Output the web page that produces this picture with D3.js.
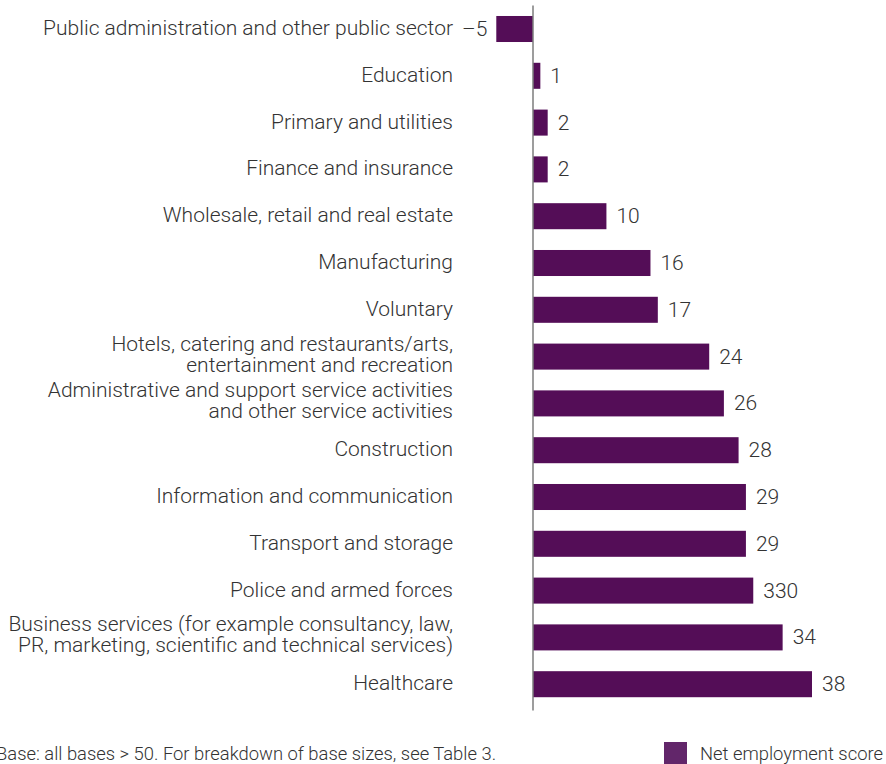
<!DOCTYPE html>
<html>
<head>
<meta charset="utf-8">
<script src="https://cdn.jsdelivr.net/npm/d3@7"></script>
<style>
  html, body { margin: 0; padding: 0; background: #ffffff; }
  svg { display: block; }
  text { font-family: Roboto, "Open Sans", sans-serif; font-weight: 300; fill: #333333; }
</style>
</head>
<body>
<svg id="chart" width="886" height="764"></svg>
<script>
// Sector labels (each entry is the list of lines drawn for that sector)
const categories = [
  ["Public administration and other public sector"],
  ["Education"],
  ["Primary and utilities"],
  ["Finance and insurance"],
  ["Wholesale, retail and real estate"],
  ["Manufacturing"],
  ["Voluntary"],
  ["Hotels, catering and restaurants/arts,", "entertainment and recreation"],
  ["Administrative and support service activities", "and other service activities"],
  ["Construction"],
  ["Information and communication"],
  ["Transport and storage"],
  ["Police and armed forces"],
  ["Business services (for example consultancy, law,", "PR, marketing, scientific and technical services)"],
  ["Healthcare"]
];

// Net employment score per sector
const values = [-5, 1, 2, 2, 10, 16, 17, 24, 26, 28, 29, 29, 30, 34, 38];

// Printed value labels, as published
const valueLabels = ["\u20135", "1", "2", "2", "10", "16", "17", "24", "26", "28", "29", "29", "330", "34", "38"];

const seriesName = "Net employment score";
const footnote = "Base: all bases > 50. For breakdown of base sizes, see Table 3.";

const barColor = "#540d57";
const legendColor = "#62266a";
const labelSize = 21;
const noteSize = 18.4;

const svg = d3.select("#chart");
const ids = categories.map((_, i) => i);

const x = d3.scaleLinear()
  .domain([0, d3.max(values)])
  .range([533, 812]);

const y = d3.scaleBand()
  .domain(ids)
  .range([5.6, 707.6])
  .paddingInner(0.444)
  .paddingOuter(0.222);

// Bars
svg.append("g")
  .selectAll("rect")
  .data(ids)
  .join("rect")
  .attr("x", i => x(Math.min(0, values[i])))
  .attr("y", i => y(i))
  .attr("width", i => Math.abs(x(values[i]) - x(0)))
  .attr("height", y.bandwidth())
  .attr("fill", barColor);

// Zero line
svg.append("line")
  .attr("x1", x(0)).attr("x2", x(0))
  .attr("y1", y.range()[0]).attr("y2", y.range()[1] + 3)
  .attr("stroke", "#7d7d7d")
  .attr("stroke-width", 1.5);

// Category labels, right aligned, centred on the bar
const lineHeight = 21;
const catG = svg.append("g");
ids.forEach(i => {
  const lines = categories[i];
  const cy = y(i) + y.bandwidth() / 2;
  const first = cy + 6 - (lines.length - 1) * lineHeight / 2 - (lines.length > 1 ? 1.5 : 0);
  lines.forEach((ln, k) => {
    catG.append("text")
      .attr("text-anchor", "end")
      .attr("font-size", labelSize)
      .attr("x", 453)
      .attr("y", first + k * lineHeight)
      .text(ln);
  });
});

// Value labels
svg.append("g")
  .selectAll("text")
  .data(ids)
  .join("text")
  .attr("font-size", labelSize)
  .attr("x", i => values[i] < 0 ? x(values[i]) - 9 : x(values[i]) + 10)
  .attr("y", i => y(i) + y.bandwidth() / 2 + 7)
  .attr("text-anchor", i => values[i] < 0 ? "end" : "start")
  .text(i => valueLabels[i]);

// Footnote
svg.append("text")
  .attr("x", -4)
  .attr("y", 760)
  .attr("font-size", noteSize)
  .text(footnote);

// Legend
svg.append("rect")
  .attr("x", 664).attr("y", 742)
  .attr("width", 23).attr("height", 23)
  .attr("fill", legendColor);
svg.append("text")
  .attr("x", 700)
  .attr("y", 760)
  .attr("font-size", noteSize)
  .text(seriesName);
</script>
</body>
</html>
